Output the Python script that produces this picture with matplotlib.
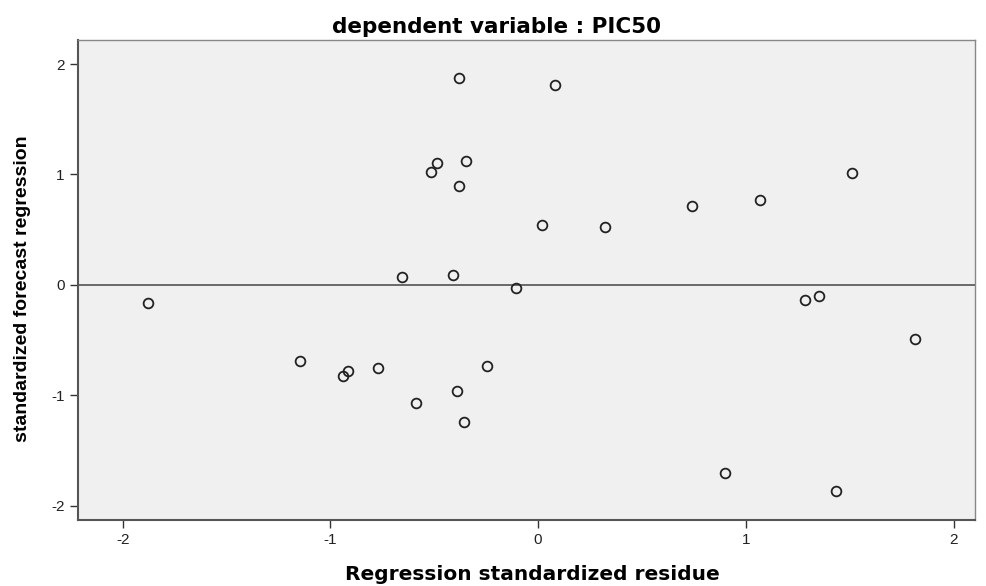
import matplotlib.pyplot as plt

# residual vs. predicted
residue = [-1.878, -1.146, -0.916, -0.937, -0.773, -0.589, -0.655, -0.517,
           -0.489, -0.380, -0.380, -0.348, -0.409, -0.392, -0.356, -0.247,
           -0.106, 0.019, 0.082, 0.323, 0.743, 1.069, 1.286, 1.353,
           1.510, 1.814, 0.900, 1.435]
forecast = [-0.163, -0.685, -0.774, -0.820, -0.749, -1.070, 0.070, 1.021,
            1.102, 1.873, 0.893, 1.122, 0.094, -0.957, -1.237, -0.733,
            -0.030, 0.545, 1.810, 0.525, 0.719, 0.765, -0.136, -0.097,
            1.014, -0.486, -1.704, -1.861]
ticks = [-2, -1, 0, 1, 2]

plt.rcParams['font.family'] = ['Liberation Sans', 'DejaVu Sans']
plt.rcParams['axes.unicode_minus'] = False

fig = plt.figure(figsize=(9.87, 5.86), dpi=100)
ax = fig.add_axes([0.079, 0.1126, 0.909, 0.8191])
ax.set_facecolor('#f0f0f0')

ax.axhline(0, color='#444444', linewidth=1.1, zorder=1)
ax.plot(residue, forecast, linestyle='None', marker='o', markersize=7,
        markerfacecolor='none', markeredgecolor='#222222',
        markeredgewidth=1.3, zorder=2)

ax.set_xlim(-2.215, 2.104)
ax.set_ylim(-2.127, 2.217)
ax.set_xticks(ticks)
ax.set_yticks(ticks)
ax.tick_params(direction='out', length=6, width=1, colors='#333333',
               labelsize=11, labelcolor='#222222')
for side in ['top', 'right']:
    ax.spines[side].set_color('#888888')
    ax.spines[side].set_linewidth(1)
for side in ['left', 'bottom']:
    ax.spines[side].set_color('#555555')
    ax.spines[side].set_linewidth(1.5)

# the reference text looks stretched sideways, so the wider DejaVu is used
ax.set_title("dependent variable : PIC50", fontsize=15.5, fontweight='bold',
             family='DejaVu Sans', x=0.467, pad=5)
ax.set_xlabel("Regression standardized residue", fontsize=14.5,
              fontweight='bold', family='DejaVu Sans')
ax.xaxis.set_label_coords(0.507, -0.093)
ax.set_ylabel("standardized forecast regression", fontsize=14,
              fontweight='bold')
ax.yaxis.set_label_coords(-0.052, 0.481)

fig.savefig("out.png", dpi=100)
